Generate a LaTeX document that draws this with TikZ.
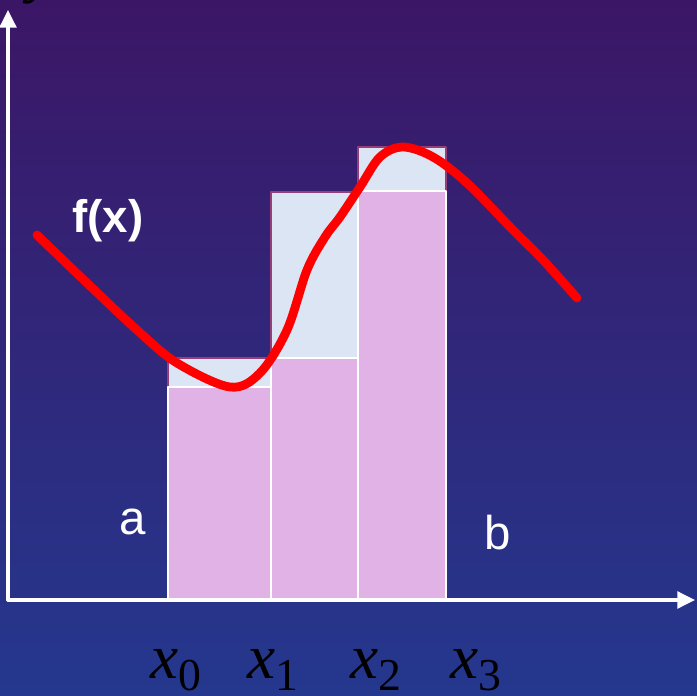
\documentclass[tikz,border=0pt]{standalone}
\usepackage{fontspec}
\setmainfont{Liberation Sans}
\newfontfamily\timesfont{Liberation Serif}
\usetikzlibrary{arrows.meta}

% x with a subscript, set like the slide
\newcommand{\xsub}[1]{{\itshape x}\raisebox{-7pt}{\fontsize{26}{26}\selectfont #1}}

\begin{document}
\begin{tikzpicture}[x=0.02cm,y=-0.02cm,line cap=round,line join=round]
  % ----- styles & colors -----
  \definecolor{bgtop}{RGB}{60,22,102}
  \definecolor{bgmid}{RGB}{44,32,114}
  \definecolor{bgbot}{RGB}{36,56,142}
  \definecolor{upperfill}{RGB}{219,229,244}
  \definecolor{lowerfill}{RGB}{224,178,230}
  \definecolor{upperedge}{RGB}{150,62,122}
  \tikzset{
    upper/.style={draw=upperedge,fill=upperfill,line width=1.2pt},
    lower/.style={draw=white,fill=lowerfill,line width=1pt},
    axis/.style={draw=white,line width=1.8pt,-{Triangle[length=10pt,width=9.5pt]}},
    curve/.style={draw=red,line width=5pt},
    lbl/.style={text=white,inner sep=0pt},
    xlbl/.style={text=black,inner sep=0pt,anchor=base west,
      font=\timesfont\fontsize{36}{36}\selectfont}
  }

  % ----- background -----
  \shade[top color=bgtop,middle color=bgmid,bottom color=bgbot]
    (0,0) rectangle (697,696);
  \useasboundingbox (0,0) rectangle (697,696);

  % ----- geometry -----
  \coordinate (O) at (8,600);
  \coordinate (Xend) at (695,600);
  \coordinate (Yend) at (8,10);

  % ----- upper and lower rectangles -----
  \foreach \xl/\xr/\up/\lo in {168/271/358/387, 271/358/192/358, 358/446/147/191}{
    \draw[upper] (\xl,\up) rectangle (\xr,600);
    \draw[lower] (\xl,\lo) rectangle (\xr,600);
  }

  % ----- the curve -----
  \draw[curve] plot[smooth,tension=0.55] coordinates {
    (37,235) (87,283) (137,330) (177,363) (230,387) (260,373)
    (287,330) (307,270) (325,237) (340,217) (360,187) (380,157)
    (403,147) (433,157) (467,183) (513,230) (543,260) (577,298)};

  % ----- axes -----
  \draw[axis] (O) -- (Xend);
  \draw[axis] (O) -- (Yend);
  \node[xlbl,text=black] (ylab) at (28,-9) {\itshape y};

  % ----- labels -----
  \node[lbl,font=\bfseries\fontsize{26}{26}\selectfont] (fx) at (108,221) {f(x)};
  \node[lbl,font=\fontsize{27}{27}\selectfont] (a) at (133,522) {a};
  \node[lbl,font=\fontsize{27}{27}\selectfont] (b) at (498,533) {b};

  \node[xlbl] (x0) at (150,678) {\xsub{0}};
  \node[xlbl] (x1) at (247,678) {\xsub{1}};
  \node[xlbl] (x2) at (350,678) {\xsub{2}};
  \node[xlbl] (x3) at (450,678) {\xsub{3}};

\end{tikzpicture}
\end{document}
